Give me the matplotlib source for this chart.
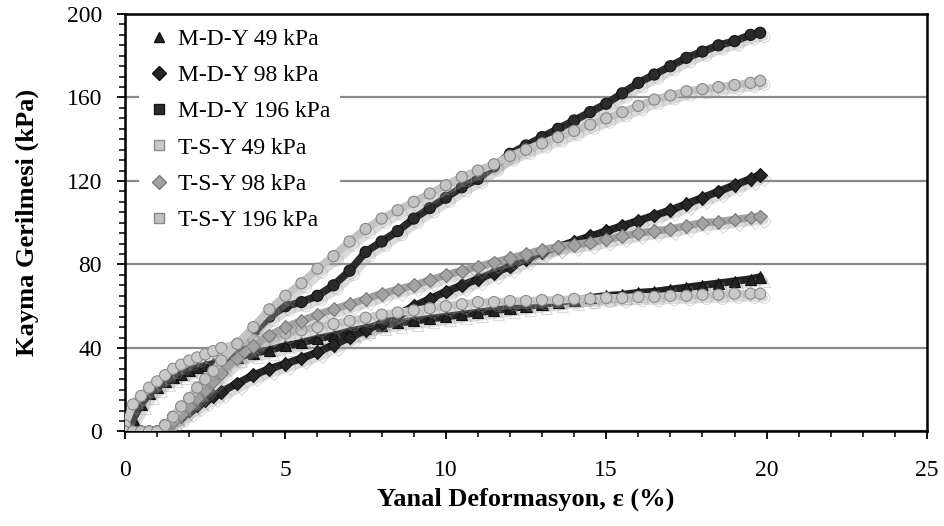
import matplotlib
matplotlib.use('Agg')
import matplotlib.pyplot as plt
import matplotlib.patheffects as pe
from matplotlib.lines import Line2D
from matplotlib.ticker import MultipleLocator

plt.rcParams['font.family'] = ['Liberation Serif', 'DejaVu Serif']

# Yanal deformasyon (%)
eps = [0, 0.25, 0.5, 0.75, 1, 1.25, 1.5, 1.75, 2, 2.25, 2.5, 2.75, 3,
       3.5, 4, 4.5, 5, 5.5, 6, 6.5, 7, 7.5, 8, 8.5, 9, 9.5, 10, 10.5,
       11, 11.5, 12, 12.5, 13, 13.5, 14, 14.5, 15, 15.5, 16, 16.5, 17,
       17.5, 18, 18.5, 19, 19.5, 19.8]

# Kayma gerilmesi (kPa)
mdy_49 = [0, 6, 13, 18, 21, 24, 26, 27.5, 29, 30.5, 31.5, 32.5, 33.5,
          35.5, 37.5, 39, 41, 42.5, 44.5, 46, 48, 49.5, 51, 52, 53, 54, 55, 56,
          57, 58, 59, 60, 61, 62, 63, 64, 65, 65.5, 66.5, 67, 68,
          69, 70, 71, 72, 73, 74]
mdy_98 = [0, 0, 0, 0, 0, 2, 5, 7.5, 10, 12.5, 15, 17, 19,
          23, 27, 30, 32.5, 35, 38, 41.5, 45, 48.5, 52, 56, 60, 63.5, 67, 70,
          73, 76, 79, 82.5, 86, 88.5, 91, 93.5, 96, 98.5, 101, 103.5, 106,
          109, 112, 115, 118, 121, 123]
mdy_196 = [0, 0, 0, 0, 0, 3, 7, 11, 15, 19, 23, 27, 31,
           39, 47, 55, 60, 62, 65, 70, 77, 86, 91, 96, 102, 107, 112, 117,
           121, 127, 133, 137, 141, 145, 149, 153, 157, 162, 167, 171, 175,
           179, 182, 185, 187, 190, 191]
tsy_49 = [3, 13, 17, 21, 24, 27, 30, 32, 34, 35.5, 37, 38.5, 40,
          42, 44, 45.5, 47, 48.5, 50, 51.5, 53, 54.5, 56, 57, 58, 59, 60, 61,
          62, 62, 62.5, 62.5, 63, 63, 63.5, 63.5, 64, 64, 64.5, 64.5, 65,
          65, 65.5, 65.5, 66, 66, 66]
tsy_98 = [0, 0, 0, 0, 0, 2, 5, 8.5, 12, 16, 20, 24, 28,
          35, 41, 46, 50, 53, 56, 58.5, 61, 63.5, 66, 68, 70, 72.5, 75, 77,
          79, 81, 83, 85, 87, 88.5, 89.5, 90.5, 92, 93.5, 95, 96, 97,
          98.5, 100, 100.5, 101.5, 102.5, 103]
tsy_196 = [0, 0, 0, 0, 0, 3, 7, 12, 16, 21, 25, 29, 34,
           42, 50, 58.5, 65, 71, 78, 84, 91, 97, 102, 106, 110, 114, 118, 122,
           125, 128, 132, 135, 138, 141, 144, 147, 150, 153, 156, 159, 161,
           163, 164, 165, 166, 167, 168]

labels = ['M-D-Y 49 kPa', 'M-D-Y 98 kPa', 'M-D-Y 196 kPa',
          'T-S-Y 49 kPa', 'T-S-Y 98 kPa', 'T-S-Y 196 kPa']
series = [mdy_49, mdy_98, mdy_196, tsy_49, tsy_98, tsy_196]
markers = ['^', 'D', 'o', 'o', 'D', 'o']
leg_markers = ['^', 'D', 's', 's', 'D', 's']
faces = ['#222222', '#262626', '#2b2b2b', '#c9c9c9', '#a3a3a3', '#c3c3c3']
edges = ['#111111', '#111111', '#151515', '#8c8c8c', '#7a7a7a', '#888888']
msizes = [8, 7, 8, 8, 7, 8]

fig = plt.figure(figsize=(9.44, 5.26), dpi=100)
ax = fig.add_axes([0.1324, 0.1797, 0.8496, 0.7937])

shadow = [pe.SimpleLineShadow(offset=(3, -3), shadow_color='#999999', alpha=0.35),
          pe.Normal()]
for y, m, fc, ec, ms in zip(series, markers, faces, edges, msizes):
    ax.plot(eps, y, color=fc, lw=5.5, marker=m, ms=ms, mfc=fc, mec=ec,
            mew=0.8, solid_capstyle='round', path_effects=shadow, zorder=3)

ax.set_xlim(0, 25)
ax.set_ylim(0, 200)
ax.xaxis.set_major_locator(MultipleLocator(5))
ax.xaxis.set_minor_locator(MultipleLocator(1))
ax.yaxis.set_major_locator(MultipleLocator(40))
ax.yaxis.set_minor_locator(MultipleLocator(5))
ax.tick_params(which='major', direction='out', length=5.5, width=1.3,
               labelsize=17, color='black')
ax.tick_params(which='minor', direction='out', length=4, width=1.1)
ax.tick_params(axis='x', which='major', pad=15)
ax.tick_params(axis='y', which='major', pad=11)
ax.grid(axis='y', which='major', color='#8a8a8a', lw=1.6, zorder=0)
for s in ax.spines.values():
    s.set_linewidth(1.8)

ax.set_xlabel('Yanal Deformasyon, ε (%)', fontsize=19, fontweight='bold',
              labelpad=5)
ax.set_ylabel('Kayma Gerilmesi (kPa)', fontsize=19, fontweight='bold',
              labelpad=20)

handles = [Line2D([], [], ls='none', marker=m, ms=7, mfc=fc, mec=ec)
           for m, fc, ec in zip(leg_markers, faces, edges)]
leg = ax.legend(handles, labels, loc='upper left', bbox_to_anchor=(0.012, 1.0),
                fontsize=17, frameon=True, facecolor='white', edgecolor='none',
                framealpha=1, labelspacing=0.62, handlelength=0.8,
                handletextpad=0.4, borderpad=0.42, borderaxespad=0.2,
                fancybox=False)
leg.set_zorder(5)

fig.savefig('out.png', dpi=100)
